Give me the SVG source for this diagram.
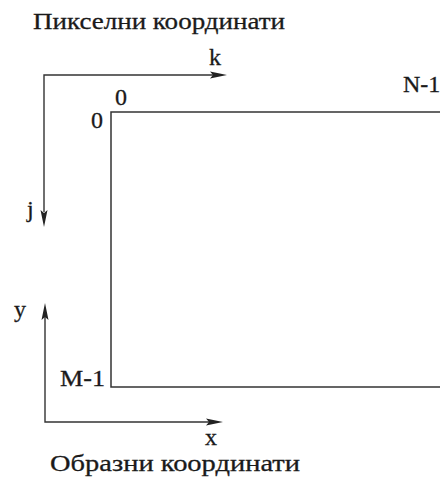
<svg xmlns="http://www.w3.org/2000/svg" width="440" height="480" viewBox="0 0 440 480">
<style>
.t{font-family:'Liberation Serif',Tinos,'Times New Roman',Times,serif;font-size:24px;fill:#1a1a1a;stroke:#1a1a1a;stroke-width:0.3}
.ax{stroke:#333;stroke-width:1.4;fill:none}
.rect{stroke:#333;stroke-width:1.5;fill:none}
.ah{fill:#222}
</style>
<rect width="440" height="480" fill="#fff"/>
<g id="pixel-title"><text class="t" x="33" y="29" textLength="252" lengthAdjust="spacingAndGlyphs">Пикселни координати</text></g>
<g id="image-rect">
<path class="rect" d="M445 112 H111 V387 H445"/>
<text class="t" x="115" y="105">0</text>
<text class="t" x="91" y="128">0</text>
<text class="t" x="403" y="92">N-1</text>
<text class="t" x="60" y="386" textLength="45" lengthAdjust="spacingAndGlyphs">M-1</text>
</g>
<g id="connectors">
<path class="ax" d="M215 75 H44 V212"/>
<path class="ah" d="M227 75 L210 71.5 L213 75 L210 78.5 Z"/>
<path class="ah" d="M44 227 L40.5 210 L44 213 L47.5 210 Z"/>
<path class="ax" d="M45 316 V422 H211"/>
<path class="ah" d="M45 303 L41.5 320 L45 317 L48.5 320 Z"/>
<path class="ah" d="M223 422 L206 418.5 L209 422 L206 425.5 Z"/>
</g>
<g id="axis-labels">
<text class="t" x="209" y="65">k</text>
<text class="t" x="27" y="217">j</text>
<text class="t" x="14" y="317">y</text>
<text class="t" x="205" y="445">x</text>
</g>
<g id="image-title"><text class="t" x="50" y="471" textLength="250" lengthAdjust="spacingAndGlyphs">Образни координати</text></g>
</svg>
